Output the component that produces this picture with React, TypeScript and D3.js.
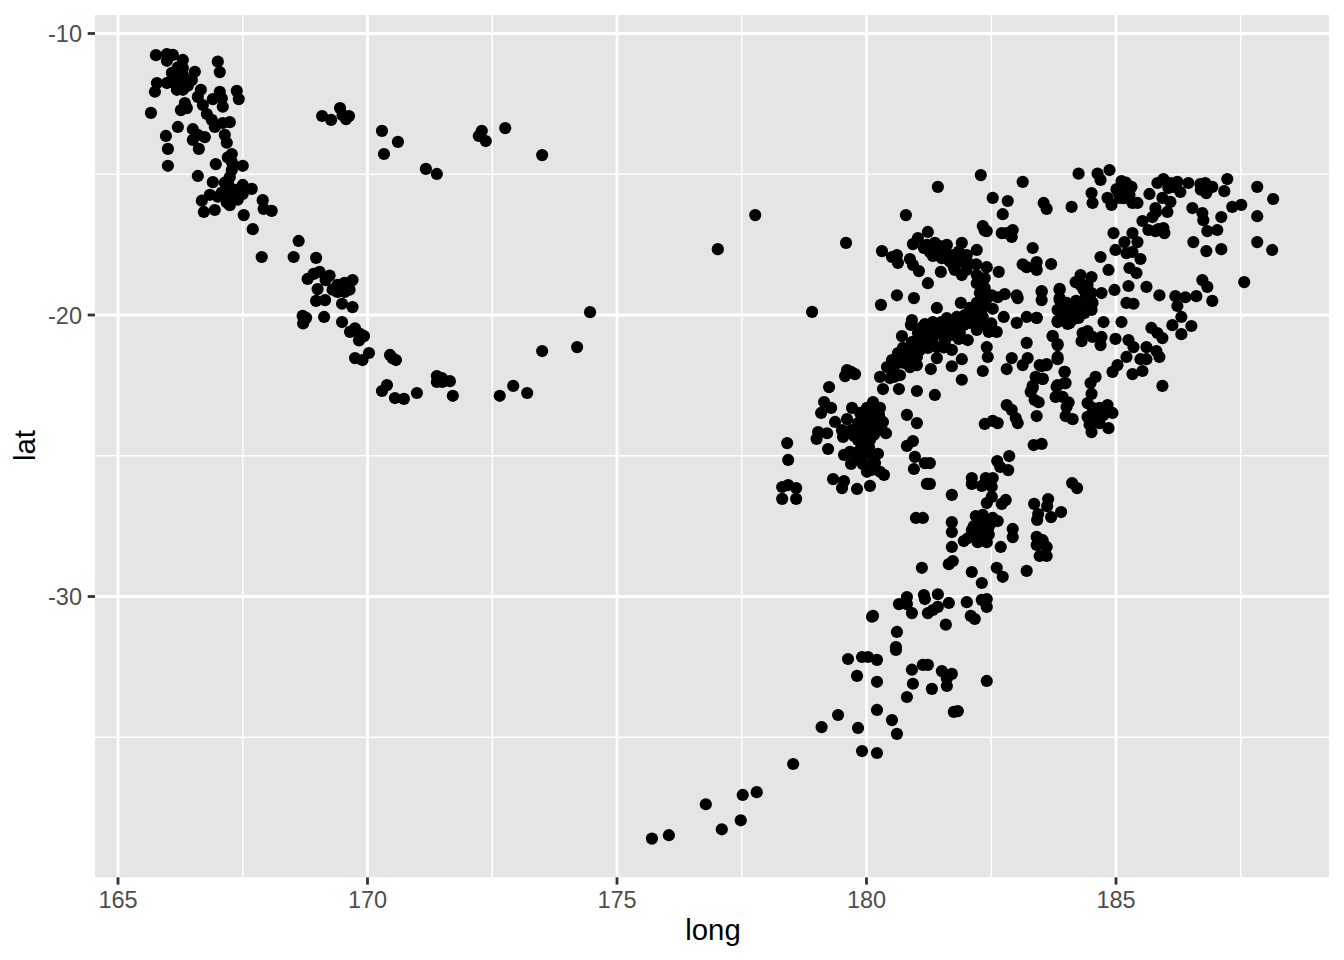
import React from "react";
import * as d3 from "d3";

type P = [number, number];

const xMajor = [165, 170, 175, 180, 185];
const xMinor = [167.5, 172.5, 177.5, 182.5, 187.5];
const yMajor = [-10, -20, -30];
const yMinor = [-15, -25, -35];

const vanuatu: P[] = [[165.76,-10.77],[165.98,-10.73],[166.1,-10.76],[165.98,-10.97],[166.3,-10.94],[166.3,-11.23],[166.54,-11.36],[166.08,-11.4],[167,-11],[167.04,-11.37],[165.78,-11.76],[165.74,-12.07],[166.04,-11.72],[166.24,-11.65],[166.48,-11.65],[166.18,-12],[166.3,-12],[165.98,-11.76],[166.14,-11.55],[166.3,-11.47],[166.66,-12],[166.6,-12.25],[167.04,-12.07],[166.9,-12.33],[167.08,-12.3],[167.1,-12.6],[167.38,-12.04],[167.42,-12.33],[166.34,-12.47],[166.26,-12.72],[166.38,-12.65],[166.7,-12.54],[166.78,-12.86],[165.66,-12.82],[166.2,-13.32],[165.96,-13.64],[166,-14.1],[166,-14.7],[166.5,-13.4],[166.5,-13.78],[166.6,-13.6],[166.74,-13.68],[166.62,-14.1],[166.88,-13.07],[166.94,-13.32],[167.1,-13.18],[167.24,-13.15],[167.14,-13.6],[167.18,-13.88],[167.28,-14.28],[167.28,-14.56],[167.5,-14.7],[166.96,-14.64],[167.28,-14.85],[167.24,-15.1],[166.6,-15.06],[166.9,-15.28],[167.14,-15.3],[167.5,-15.38],[167.68,-15.52],[167.38,-15.55],[166.68,-15.94],[166.84,-15.73],[167,-15.8],[167.24,-16.1],[167.4,-15.9],[166.72,-16.34],[166.94,-16.27],[167.9,-15.92],[167.92,-16.23],[168.08,-16.3],[167.52,-16.45],[167.7,-16.95],[167.88,-17.94],[166.2,-11.2],[166.16,-11.8],[166.4,-11.85],[167.2,-14.4],[167.32,-14.7],[167.22,-15.4],[167.08,-15.65],[167.28,-15.75],[167.18,-16.0],[167.5,-15.7]];

const loyalty: P[] = [[168.62,-17.37],[168.52,-17.94],[168.97,-17.97],[168.8,-18.72],[168.92,-18.54],[169.04,-18.47],[169.16,-18.76],[169.24,-18.6],[169,-19.08],[169.4,-18.93],[169.54,-18.86],[169.7,-18.76],[169.3,-19.1],[169.4,-19.18],[169.54,-19.18],[169.64,-19.1],[168.97,-19.5],[169.15,-19.47],[169.49,-19.6],[169.7,-19.72],[168.7,-20.03],[168.77,-20.1],[168.71,-20.3],[169.13,-20.07],[169.49,-20.25],[169.65,-20.6],[169.75,-20.47],[169.85,-20.67],[169.93,-20.75],[169.83,-20.9],[170.03,-21.35],[169.75,-21.53],[169.9,-21.6],[170.45,-21.42],[170.5,-21.53],[170.57,-21.6],[170.29,-22.7],[170.39,-22.49],[170.55,-22.95],[170.73,-22.98],[170.99,-22.77],[171.39,-22.17],[171.49,-22.24],[171.65,-22.35],[171.39,-22.38],[171.5,-22.38],[171.71,-22.87],[172.65,-22.87],[172.92,-22.52],[173.2,-22.77],[173.5,-21.28],[174.2,-21.14],[174.46,-19.9]];

const solomon: P[] = [[169.09,-12.93],[169.27,-13.07],[169.45,-12.65],[169.5,-12.9],[169.63,-12.93],[169.57,-13.04],[170.29,-13.46],[170.33,-14.28],[170.61,-13.85],[171.17,-14.81],[171.39,-14.99],[172.23,-13.64],[172.29,-13.46],[172.37,-13.82],[172.76,-13.36],[173.5,-14.32],[177.02,-17.66],[177.77,-16.45],[178.91,-19.89]];

const kermadec: P[] = [[175.7,-38.6],[176.04,-38.48],[176.78,-37.38],[177.1,-38.27],[177.48,-37.95],[177.52,-37.05],[177.8,-36.95],[178.53,-35.95],[179.1,-34.64],[179.43,-34.21],[179.83,-34.67],[179.91,-35.49],[180.21,-35.56],[180.21,-34.03],[180.51,-34.39],[180.61,-34.88],[179.63,-32.22],[179.91,-32.15],[180.03,-32.15],[180.21,-32.25],[179.81,-32.82],[180.21,-33.03],[180.81,-33.57],[180.93,-33.1],[180.91,-32.6],[181.13,-32.43],[181.23,-32.43],[181.31,-33.28],[181.51,-32.65],[181.61,-32.9],[181.61,-33.18],[181.71,-32.75],[181.75,-34.1],[181.83,-34.07],[182.41,-33],[180.59,-31.9],[180.59,-31.8],[180.61,-31.26],[180.13,-30.69],[180.11,-30.72],[180.65,-30.27],[180.81,-30.02],[180.81,-30.27],[180.91,-30.59],[181.15,-29.95],[181.17,-30.09],[181.43,-29.92],[181.23,-30.59],[181.33,-30.48],[181.43,-30.37],[181.65,-30.23],[181.59,-31],[181.11,-28.98],[182.01,-30.2],[182.09,-30.69],[182.17,-30.8],[182.31,-30.12],[182.41,-30.09],[182.41,-30.37],[182.31,-29.52],[182.11,-29.13],[182.61,-28.98],[182.73,-29.3],[183.21,-29.09]];

const column: P[] = [[182.86,-25.01],[182.62,-25.19],[182.68,-25.4],[182.84,-25.51],[181.27,-25.26],[181.27,-26],[182.11,-25.79],[182.11,-26],[182.39,-25.79],[182.53,-25.79],[182.31,-26.07],[182.51,-26.1],[181.71,-26.39],[182.51,-26.46],[182.41,-26.68],[182.79,-26.57],[182.71,-26.71],[184.12,-25.97],[184.22,-26.15],[183.36,-26.71],[183.64,-26.54],[183.62,-26.79],[183.9,-27],[183.44,-27.07],[183.42,-27.28],[183.7,-27.18],[182.19,-27.14],[182.37,-27.28],[182.53,-27.21],[182.63,-27.32],[181.71,-27.36],[181.71,-27.71],[182.11,-27.64],[182.27,-27.64],[182.43,-27.64],[182.23,-28.07],[182.41,-28.07],[181.95,-28.03],[182.03,-27.93],[182.33,-27.1],[182.47,-27.46],[182.93,-27.6],[182.93,-27.89],[182.69,-28.24],[181.71,-28.24],[181.73,-28.74],[181.65,-28.85],[183.41,-27.88],[183.53,-28],[183.41,-28.17],[183.61,-28.24],[183.47,-28.56],[183.61,-28.56],[182.3,-27.4],[182.4,-27.5],[182.5,-27.35],[182.2,-27.8],[182.33,-27.85],[182.45,-27.8],[182.15,-27.5]];

const fijiSouth: P[] = [[179.25,-22.56],[179.15,-23.09],[179.29,-23.3],[179.09,-23.48],[179.37,-23.8],[179.03,-24.16],[179.21,-24.2],[179,-24.4],[179.53,-24.33],[179.51,-24.09],[179.69,-24.09],[179.61,-23.7],[179.71,-23.3],[179.23,-24.76],[178.41,-24.55],[178.43,-25.15],[178.31,-26.11],[178.43,-26.04],[178.59,-26.15],[178.31,-26.53],[178.59,-26.53],[179.33,-25.83],[179.55,-25.9],[179.51,-26.15],[179.81,-26.18],[180.07,-26.07],[179.55,-24.97],[179.67,-24.86],[179.69,-25.29],[179.83,-24.86],[180.01,-24.9],[179.87,-25.08],[180.03,-25.33],[180.01,-25.57],[180.23,-24.93],[180.17,-25.26],[180.27,-25.57],[180.35,-25.68],[180.39,-24.2],[180.33,-23.8],[180.27,-23.3],[180.13,-23.09],[180.01,-23.3],[179.87,-23.48],[179.83,-23.84],[179.91,-24.33],[179.83,-24.44],[180.07,-24.44],[180.01,-23.84],[180.13,-23.62],[180.21,-23.97],[180.07,-24.09],[179.93,-24.09],[180.07,-23.48],[179.97,-24.69],[180.33,-22.63],[180.65,-22.63],[181.01,-22.7],[181.37,-22.84],[180.81,-23.55],[181.01,-23.84],[180.93,-24.48],[180.81,-24.65],[180.97,-25.04],[181.17,-25.26],[180.95,-25.47],[181.21,-26],[180.99,-27.21],[181.13,-27.21],[179.69,-22.02],[179.61,-21.96],[179.57,-22.17],[179.77,-22.1],[179.97,-23.6],[180.17,-23.3],[180.25,-23.55],[179.95,-24.25],[180.15,-24.25],[180.05,-24.7],[179.9,-24.65],[180.1,-24.95],[179.93,-25.3],[180.1,-25.5],[179.75,-24.3],[180.3,-24.05],[179.8,-25.1],[180.2,-23.75]];

const fijiBand: P[] = [[181.23,-17.05],[181.03,-17.27],[180.93,-17.48],[182.33,-16.84],[182.41,-17.02],[182.71,-17.09],[182.93,-16.98],[182.91,-17.23],[182.81,-17.09],[183.33,-17.62],[180.31,-17.73],[181.91,-17.44],[182.21,-17.69],[181.21,-17.51],[181.37,-17.44],[181.61,-17.51],[181.41,-17.69],[181.57,-17.8],[181.73,-17.87],[181.27,-17.76],[181.51,-17.98],[181.83,-18.12],[182.01,-17.87],[182.03,-18.15],[180.51,-17.94],[180.61,-17.87],[180.63,-18.15],[180.87,-18.01],[180.93,-18.22],[181.05,-18.44],[181.49,-18.47],[181.77,-18.4],[181.91,-18.58],[181.23,-18.87],[182.41,-18.3],[182.65,-18.47],[182.21,-18.58],[182.37,-18.69],[182.21,-18.87],[182.37,-19.04],[182.27,-19.22],[182.51,-19.3],[182.77,-19.26],[182.63,-19.37],[183.03,-19.4],[183.01,-19.3],[180.61,-19.3],[180.95,-19.4],[180.29,-19.64],[181.41,-19.75],[180.91,-20.18],[180.89,-20.35],[181.89,-19.57],[182.33,-19.64],[182.53,-19.78],[182.07,-19.75],[182.21,-19.57],[182.75,-20.07],[183.01,-20.28],[182.61,-20.6],[183.21,-20.07],[183.41,-20.1],[180.71,-20.75],[181.17,-20.32],[181.33,-20.25],[181.61,-20.11],[181.81,-20.07],[181.97,-20],[182.13,-19.93],[182.33,-20.07],[182.37,-20.36],[182.21,-20.53],[182.07,-20.28],[181.87,-20.28],[181.71,-20.43],[181.51,-20.43],[181.33,-20.53],[181.17,-20.64],[181.03,-20.64],[181.01,-20.89],[181.17,-20.89],[181.33,-20.82],[181.53,-20.71],[181.71,-20.71],[181.87,-20.64],[182.03,-20.89],[181.57,-20.96],[181.71,-21.24],[181.41,-21.14],[181.41,-21.53],[181.23,-21.17],[181.07,-21.24],[180.87,-21.17],[180.91,-20.96],[180.73,-21.17],[180.73,-21.42],[181.01,-21.49],[180.87,-21.85],[181.01,-21.78],[180.51,-21.6],[180.63,-21.7],[180.41,-21.85],[180.53,-21.96],[180.67,-22.14],[180.27,-22.2],[180.47,-22.24],[181.29,-21.92],[181.91,-21.57],[181.71,-21.82],[181.91,-22.3],[182.41,-21.14],[182.43,-21.49],[182.33,-21.99],[182.81,-21.92],[182.91,-21.53],[183.21,-20.99],[183.23,-21.53],[183.13,-21.78],[183.47,-21.78],[183.61,-21.74],[183.53,-22.27],[183.33,-22.52],[183.73,-20.75],[183.83,-21.07],[183.83,-21.49],[183.97,-22.02],[183.83,-22.49],[183.97,-22.42],[183.21,-18.3],[183.41,-18.12],[183.41,-18.4],[183.7,-18.19],[183.51,-19.18],[183.51,-19.47],[183.87,-19.11],[183.83,-20.25],[184.03,-20.32],[183.87,-19.47],[183.87,-19.82],[181.15,-17.62],[181.33,-17.9],[181.67,-18.1],[181.85,-17.75],[181.47,-17.55],[181.75,-18.3],[182.0,-18.4],[182.2,-18.2],[182.3,-18.8],[182.4,-19.45],[182.3,-19.85],[182.1,-20.1],[181.95,-20.35],[181.75,-20.2],[181.5,-20.25],[181.4,-20.65],[181.25,-21],[181,-21.1],[180.85,-21.45],[180.75,-21.7],[180.63,-21.35],[181.1,-20.45],[181.6,-20.55],[182.2,-20.25],[182.5,-20.3],[182.45,-20.6],[181.85,-20.85],[181.55,-21.15],[180.95,-21.65],[180.55,-22.2]];

const tonga: P[] = [[184.25,-14.98],[184.63,-14.98],[184.69,-15.2],[184.87,-14.85],[183.55,-16.02],[183.61,-16.23],[184.11,-16.16],[184.51,-15.67],[184.53,-16.02],[184.83,-15.84],[184.91,-16.09],[185.11,-15.24],[185.01,-15.53],[185.17,-15.49],[185.31,-15.45],[185.21,-15.67],[185.07,-15.84],[185.33,-16.02],[185.43,-16.02],[185.27,-15.74],[185.67,-15.7],[185.83,-15.31],[185.95,-15.17],[186.09,-15.31],[186.05,-15.49],[186.23,-15.27],[186.29,-15.63],[186.45,-15.31],[186.69,-15.35],[186.79,-15.31],[186.93,-15.45],[186.81,-15.67],[187.23,-15.17],[187.17,-15.6],[185.93,-15.84],[186.09,-15.98],[185.79,-16.2],[186.03,-16.34],[185.53,-16.66],[185.73,-16.52],[185.65,-16.98],[185.79,-17.02],[185.95,-16.91],[185.97,-17.09],[186.53,-16.2],[186.73,-16.38],[186.75,-16.63],[187.11,-16.52],[186.83,-17.02],[187.03,-16.98],[186.55,-17.41],[186.81,-17.73],[187.11,-17.66],[187.33,-16.16],[187.51,-16.09],[187.83,-15.45],[188.15,-15.88],[187.83,-16.49],[187.83,-17.41],[188.13,-17.69],[184.95,-17.09],[185.33,-17.09],[185.17,-17.41],[185.43,-17.41],[184.99,-17.69],[185.21,-17.8],[185.33,-17.76],[185.49,-18.01],[184.69,-17.94],[184.85,-18.4],[185.27,-18.33],[185.41,-18.51],[186.73,-18.76],[186.83,-19],[187.57,-18.83],[186.93,-19.5],[186.61,-19.33],[186.39,-19.37],[186.19,-19.33],[186.23,-19.68],[185.87,-19.3],[185.61,-19],[185.25,-18.97],[184.97,-19.11],[184.71,-19.22],[185.21,-19.57],[185.35,-19.6],[186.31,-20.07],[186.13,-20.36],[186.51,-20.39],[186.31,-20.68],[185.71,-20.46],[185.83,-20.64],[185.93,-20.82],[185.11,-20.25],[184.75,-20.25],[185.2,-15.3],[185.05,-15.65],[185.15,-15.85],[186.85,-15.5],[186.7,-15.55],[186.15,-15.45],[185.25,-15.85],[185.85,-16.95],[185.8,-16.35]];

const tongaCore: P[] = [[184.29,-18.58],[184.19,-18.83],[184.51,-18.65],[184.43,-18.93],[184.29,-18.93],[184.51,-19.22],[183.87,-19.07],[183.51,-19.15],[184.01,-19.57],[184.13,-19.71],[184.29,-19.57],[184.43,-19.53],[184.53,-19.57],[184.51,-19.82],[184.37,-19.93],[184.25,-20.1],[184.07,-20.28],[183.83,-20.21],[183.83,-19.82],[184.01,-19.93],[184.13,-19.93],[183.87,-19.4],[183.41,-20.1],[183.73,-20.75],[183.83,-21.03],[184.33,-20.64],[184.43,-20.57],[184.31,-20.93],[184.53,-20.78],[184.71,-20.78],[184.69,-21.07],[184.99,-20.85],[185.25,-20.89],[185.35,-21.14],[185.61,-21.14],[185.81,-21.28],[185.87,-21.49],[185.21,-21.49],[185.49,-21.57],[185.61,-21.57],[185.03,-21.78],[184.93,-22.02],[185.33,-22.1],[185.53,-21.99],[185.93,-22.52],[183.83,-21.57],[183.51,-21.82],[183.61,-21.78],[183.97,-22.02],[183.53,-22.27],[183.99,-22.42],[183.81,-22.55],[183.33,-22.59],[183.79,-22.91],[183.93,-22.91],[184.05,-23.1],[183.45,-23.1],[184.01,-23.27],[183.41,-23.59],[183.99,-23.59],[184.13,-23.7],[184.59,-22.2],[184.49,-22.42],[184.51,-22.8],[184.43,-23.13],[184.83,-23.2],[184.93,-23.48],[184.85,-24.02],[184.67,-23.3],[184.53,-23.3],[184.43,-23.62],[184.61,-23.62],[184.51,-24.16],[184.47,-23.9],[184.67,-23.84],[183.51,-24.58],[183.35,-24.62],[184.2,-19.5],[184.35,-19.75],[184.2,-19.8],[184.45,-19.75],[183.95,-19.75],[183.95,-20.1],[184.15,-20.15],[184.4,-19.3],[184.35,-19.1],[184.55,-23.5],[184.55,-23.75],[184.75,-23.55]];

const scattered: P[] = [[182.81,-23.2],[182.91,-23.37],[182.99,-23.66],[182.37,-23.87],[182.53,-23.76],[182.63,-23.84],[183.03,-23.84],[183.29,-22.73],[183.39,-22.2],[183.37,-23.02],[182.73,-16.42],[182.83,-15.95],[182.53,-15.84],[182.29,-15.03],[183.13,-15.27],[181.43,-15.45],[180.79,-16.45],[179.59,-17.44],[182.37,-17],[183.13,-18.2],[183.4,-18.33]];

const quakes: P[] = [...vanuatu, ...loyalty, ...solomon, ...kermadec, ...column, ...fijiSouth, ...fijiBand, ...tonga, ...tongaCore, ...scattered];

const W = 1344, H = 960;
const panel = { left: 95, right: 1329, top: 15, bottom: 877.3 };
const x = d3.scaleLinear().domain([165, 185]).range([118, 1116]);
const y = d3.scaleLinear().domain([-10, -30]).range([33.5, 596.5]);
const FONT = "'Liberation Sans', Arial, sans-serif";

export default function App() {
  return (
    <svg width={W} height={H} viewBox={`0 0 ${W} ${H}`} style={{ position: "absolute", left: 0, top: 0, background: "#fff" }}>
      <rect x={panel.left} y={panel.top} width={panel.right - panel.left} height={panel.bottom - panel.top} fill="#E5E5E5" />
      {xMinor.map((v) => <line key={v} x1={x(v)} x2={x(v)} y1={panel.top} y2={panel.bottom} stroke="#fff" strokeWidth={1.4} />)}
      {yMinor.map((v) => <line key={v} y1={y(v)} y2={y(v)} x1={panel.left} x2={panel.right} stroke="#fff" strokeWidth={1.4} />)}
      {xMajor.map((v) => <line key={v} x1={x(v)} x2={x(v)} y1={panel.top} y2={panel.bottom} stroke="#fff" strokeWidth={2.8} />)}
      {yMajor.map((v) => <line key={v} y1={y(v)} y2={y(v)} x1={panel.left} x2={panel.right} stroke="#fff" strokeWidth={2.8} />)}
      {quakes.map(([lo, la], i) => <circle key={i} cx={x(lo)} cy={y(la)} r={6.1} fill="#000" />)}
      {xMajor.map((v) => (
        <g key={v}>
          <line x1={x(v)} x2={x(v)} y1={panel.bottom} y2={panel.bottom + 7.3} stroke="#333" strokeWidth={2.8} />
          <text x={x(v)} y={908} textAnchor="middle" fontFamily={FONT} fontSize={23.5} fill="#4D4D4D">{v}</text>
        </g>
      ))}
      {yMajor.map((v) => (
        <g key={v}>
          <line x1={panel.left - 7.3} x2={panel.left} y1={y(v)} y2={y(v)} stroke="#333" strokeWidth={2.8} />
          <text x={panel.left - 13} y={y(v) + 8.5} textAnchor="end" fontFamily={FONT} fontSize={23.5} fill="#4D4D4D">{v}</text>
        </g>
      ))}
      <text x={713} y={939.5} textAnchor="middle" fontFamily={FONT} fontSize={29.3} fill="#000">long</text>
      <text transform="translate(34.7,445.5) rotate(-90)" textAnchor="middle" fontFamily={FONT} fontSize={29.3} fill="#000">lat</text>
    </svg>
  );
}
